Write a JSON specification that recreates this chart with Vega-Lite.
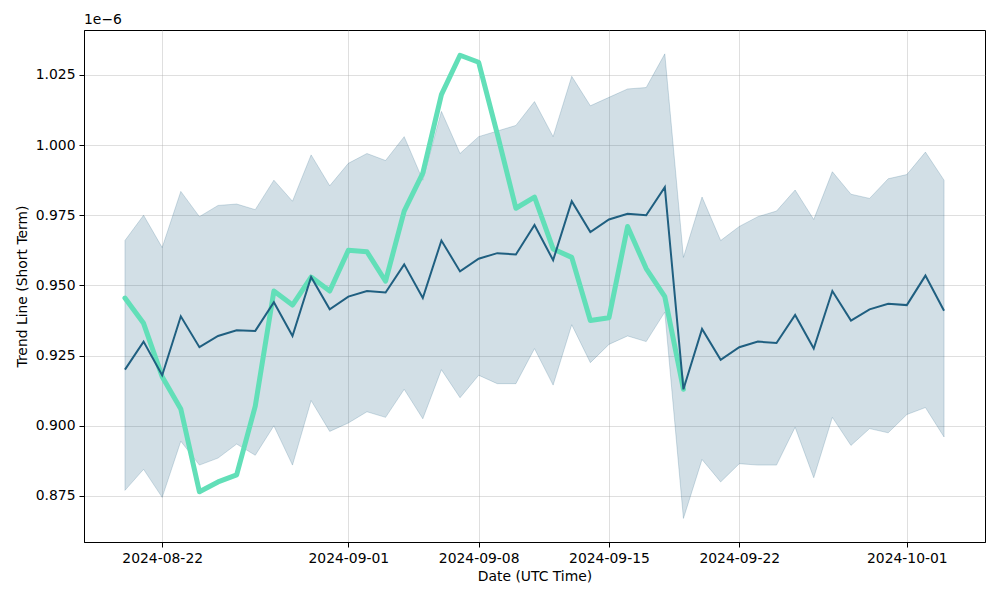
{
  "$schema": "https://vega.github.io/schema/vega-lite/v6.json",
  "width": 901,
  "height": 512,
  "autosize": {"type": "none"},
  "padding": {"left": 84, "top": 30, "right": 15, "bottom": 58},
  "background": "white",
  "config": {
    "font": "DejaVu Sans",
    "view": {"stroke": "black", "strokeWidth": 1},
    "axis": {
      "labelFont": "DejaVu Sans",
      "titleFont": "DejaVu Sans",
      "labelFontSize": 13.9,
      "titleFontSize": 13.9,
      "titleFontWeight": "normal",
      "labelColor": "black",
      "titleColor": "black",
      "domainColor": "black",
      "tickColor": "black",
      "tickSize": 5,
      "tickWidth": 1,
      "labelPadding": 4,
      "gridColor": "#b0b0b0",
      "gridOpacity": 0.4,
      "gridWidth": 1
    }
  },
  "title": {
    "text": "1e−6",
    "anchor": "start",
    "frame": "group",
    "fontSize": 13.9,
    "fontWeight": "normal",
    "font": "DejaVu Sans",
    "color": "black",
    "offset": 3
  },
  "data": {
    "values": [
      {"date": "2024-08-20", "mean": 0.920, "upper": 0.966, "lower": 0.877, "trend": 0.9455},
      {"date": "2024-08-21", "mean": 0.930, "upper": 0.975, "lower": 0.8845, "trend": 0.9365},
      {"date": "2024-08-22", "mean": 0.918, "upper": 0.9635, "lower": 0.8745, "trend": 0.9175},
      {"date": "2024-08-23", "mean": 0.939, "upper": 0.9835, "lower": 0.8945, "trend": 0.906},
      {"date": "2024-08-24", "mean": 0.928, "upper": 0.9745, "lower": 0.886, "trend": 0.8765},
      {"date": "2024-08-25", "mean": 0.932, "upper": 0.9785, "lower": 0.8885, "trend": 0.880},
      {"date": "2024-08-26", "mean": 0.934, "upper": 0.979, "lower": 0.8935, "trend": 0.8825},
      {"date": "2024-08-27", "mean": 0.9338, "upper": 0.977, "lower": 0.8895, "trend": 0.907},
      {"date": "2024-08-28", "mean": 0.944, "upper": 0.9875, "lower": 0.900, "trend": 0.948},
      {"date": "2024-08-29", "mean": 0.932, "upper": 0.980, "lower": 0.886, "trend": 0.943},
      {"date": "2024-08-30", "mean": 0.953, "upper": 0.9965, "lower": 0.909, "trend": 0.953},
      {"date": "2024-08-31", "mean": 0.9415, "upper": 0.9855, "lower": 0.898, "trend": 0.948},
      {"date": "2024-09-01", "mean": 0.946, "upper": 0.9935, "lower": 0.901, "trend": 0.9625},
      {"date": "2024-09-02", "mean": 0.948, "upper": 0.997, "lower": 0.905, "trend": 0.962},
      {"date": "2024-09-03", "mean": 0.9475, "upper": 0.9945, "lower": 0.903, "trend": 0.9515},
      {"date": "2024-09-04", "mean": 0.9575, "upper": 1.003, "lower": 0.913, "trend": 0.9765},
      {"date": "2024-09-05", "mean": 0.9455, "upper": 0.9875, "lower": 0.9025, "trend": 0.990},
      {"date": "2024-09-06", "mean": 0.966, "upper": 1.012, "lower": 0.920, "trend": 1.018},
      {"date": "2024-09-07", "mean": 0.955, "upper": 0.997, "lower": 0.910, "trend": 1.032},
      {"date": "2024-09-08", "mean": 0.9595, "upper": 1.003, "lower": 0.918, "trend": 1.0295},
      {"date": "2024-09-09", "mean": 0.9615, "upper": 1.005, "lower": 0.915, "trend": 1.004},
      {"date": "2024-09-10", "mean": 0.961, "upper": 1.007, "lower": 0.915, "trend": 0.9775},
      {"date": "2024-09-11", "mean": 0.9715, "upper": 1.0155, "lower": 0.9275, "trend": 0.9815},
      {"date": "2024-09-12", "mean": 0.959, "upper": 1.003, "lower": 0.9145, "trend": 0.963},
      {"date": "2024-09-13", "mean": 0.980, "upper": 1.0245, "lower": 0.936, "trend": 0.960},
      {"date": "2024-09-14", "mean": 0.969, "upper": 1.014, "lower": 0.9225, "trend": 0.9375},
      {"date": "2024-09-15", "mean": 0.9735, "upper": 1.017, "lower": 0.929, "trend": 0.9385},
      {"date": "2024-09-16", "mean": 0.9755, "upper": 1.020, "lower": 0.932, "trend": 0.971},
      {"date": "2024-09-17", "mean": 0.975, "upper": 1.0205, "lower": 0.930, "trend": 0.956},
      {"date": "2024-09-18", "mean": 0.985, "upper": 1.0325, "lower": 0.9405, "trend": 0.946},
      {"date": "2024-09-19", "mean": 0.913, "upper": 0.960, "lower": 0.867, "trend": 0.913},
      {"date": "2024-09-20", "mean": 0.9345, "upper": 0.9815, "lower": 0.888, "trend": null},
      {"date": "2024-09-21", "mean": 0.9235, "upper": 0.966, "lower": 0.880, "trend": null},
      {"date": "2024-09-22", "mean": 0.928, "upper": 0.971, "lower": 0.8865, "trend": null},
      {"date": "2024-09-23", "mean": 0.930, "upper": 0.9745, "lower": 0.886, "trend": null},
      {"date": "2024-09-24", "mean": 0.9295, "upper": 0.9765, "lower": 0.886, "trend": null},
      {"date": "2024-09-25", "mean": 0.9395, "upper": 0.984, "lower": 0.8995, "trend": null},
      {"date": "2024-09-26", "mean": 0.9275, "upper": 0.9735, "lower": 0.8815, "trend": null},
      {"date": "2024-09-27", "mean": 0.948, "upper": 0.9905, "lower": 0.903, "trend": null},
      {"date": "2024-09-28", "mean": 0.9375, "upper": 0.9825, "lower": 0.893, "trend": null},
      {"date": "2024-09-29", "mean": 0.9415, "upper": 0.981, "lower": 0.899, "trend": null},
      {"date": "2024-09-30", "mean": 0.9435, "upper": 0.988, "lower": 0.8975, "trend": null},
      {"date": "2024-10-01", "mean": 0.943, "upper": 0.9895, "lower": 0.904, "trend": null},
      {"date": "2024-10-02", "mean": 0.9535, "upper": 0.9975, "lower": 0.9065, "trend": null},
      {"date": "2024-10-03", "mean": 0.941, "upper": 0.9875, "lower": 0.896, "trend": null}
    ]
  },
  "encoding": {
    "x": {
      "field": "date",
      "type": "temporal",
      "scale": {
        "type": "utc",
        "domain": [
          {"year": 2024, "month": 8, "date": 17, "hours": 19, "minutes": 12, "utc": true},
          {"year": 2024, "month": 10, "date": 5, "hours": 4, "minutes": 48, "utc": true}
        ]
      },
      "axis": {
        "title": "Date (UTC Time)",
        "titlePadding": 5,
        "labelExpr": "utcFormat(datum.value, '%Y-%m-%d')",
        "labelFlush": false,
        "labelOverlap": false,
        "values": [
          {"year": 2024, "month": 8, "date": 22, "utc": true},
          {"year": 2024, "month": 9, "date": 1, "utc": true},
          {"year": 2024, "month": 9, "date": 8, "utc": true},
          {"year": 2024, "month": 9, "date": 15, "utc": true},
          {"year": 2024, "month": 9, "date": 22, "utc": true},
          {"year": 2024, "month": 10, "date": 1, "utc": true}
        ]
      }
    }
  },
  "layer": [
    {
      "mark": {"type": "area", "color": "#1f5f80", "fillOpacity": 0.2, "stroke": "#1f5f80", "strokeOpacity": 0.2, "strokeWidth": 1},
      "encoding": {
        "y": {
          "field": "upper",
          "type": "quantitative",
          "scale": {"domain": [0.8586, 1.041], "nice": false, "zero": false},
          "axis": {
            "title": "Trend Line (Short Term)",
            "titlePadding": 6,
            "format": ".3f",
            "labelFlush": false,
            "values": [0.875, 0.9, 0.925, 0.95, 0.975, 1.0, 1.025]
          }
        },
        "y2": {"field": "lower"}
      }
    },
    {
      "mark": {"type": "line", "color": "#62dfb8", "strokeWidth": 5, "strokeJoin": "round", "strokeCap": "round"},
      "encoding": {"y": {"field": "trend", "type": "quantitative"}}
    },
    {
      "mark": {"type": "line", "color": "#1f5f80", "strokeWidth": 2},
      "encoding": {"y": {"field": "mean", "type": "quantitative"}}
    }
  ]
}
